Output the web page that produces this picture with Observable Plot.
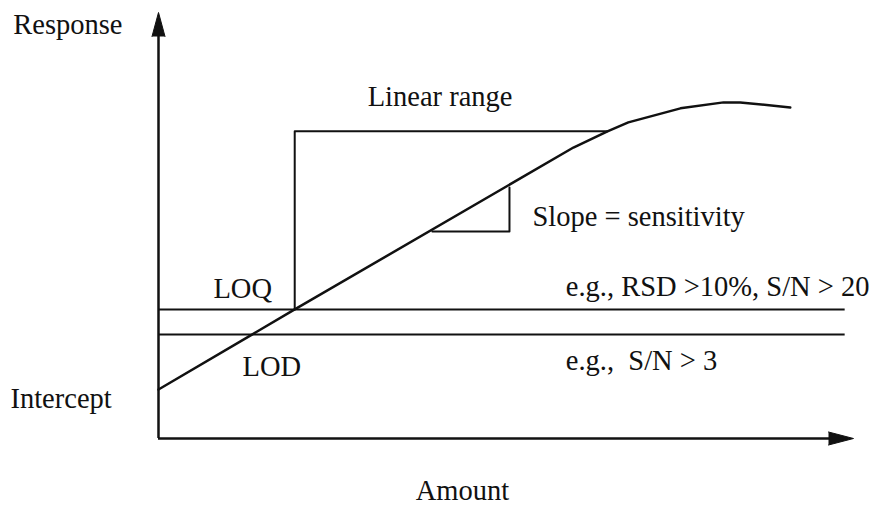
<!DOCTYPE html>
<html>
<head>
<meta charset="utf-8">
<script src="https://cdn.jsdelivr.net/npm/d3@7"></script>
<script src="https://cdn.jsdelivr.net/npm/@observablehq/plot@0.6"></script>
<style>
  html, body { margin: 0; padding: 0; background: #fff; }
  #chart svg { display: block; }
</style>
</head>
<body>
<div id="chart"></div>
<script>
// Calibration curve (schematic): amount vs response, arbitrary units
const curveAmount   = [0, 19.6, 59.7, 64.6, 67.6, 75.1, 81.3, 83.7, 90.9];
const curveResponse = [11.5, 30.3, 68.3, 72.1, 74.2, 77.5, 78.9, 78.9, 77.7];

// Threshold levels (response units)
const loqLevel = 30.3;
const lodLevel = 24.4;
const levelEnd = 98.8;           // amount where threshold lines stop

// Linear range bracket (amount start/end, response top)
const linearStart = 19.6;
const linearEnd = 64.6;
const linearTop = 72.1;

// Slope triangle
const slopeX = [39.4, 50.5];
const slopeY = [48.6, 58.9];

// Axis extents
const axisMax = 100;

// Labels
const labelText = ["Response", "Linear range", "Slope = sensitivity", "LOQ",
  "e.g., RSD >10%, S/N > 20", "LOD", "e.g.,\u00a0 S/N > 3", "Intercept", "Amount"];
const labelAmount = [-20.9, 30.1, 53.8, 7.9, 58.6, 12.1, 58.6, -21.3, 37.0];
const labelResponse = [97.2, 80.3, 52.1, 35.2, 35.7, 16.9, 18.3, 9.4, -12.3];

const curve = curveAmount.map((a, i) => ({a, r: curveResponse[i]}));
const labels = labelText.map((t, i) => ({t, a: labelAmount[i], r: labelResponse[i]}));

const ink = "#111";
const chart = Plot.plot({
  width: 880,
  height: 508,
  margin: 0,
  x: {domain: [0, axisMax], range: [158, 853], axis: null},
  y: {domain: [0, axisMax], range: [438, 12], axis: null},
  style: {background: "#fff", fontFamily: "'Liberation Serif', 'Times New Roman', serif"},
  marks: [
    // axes
    Plot.ruleX([0], {y1: 0, y2: axisMax * 0.95, stroke: ink, strokeWidth: 2.5}),
    Plot.ruleY([0], {x1: 0, x2: axisMax * 0.97, stroke: ink, strokeWidth: 2.5}),
    Plot.vector([{a: 0, r: axisMax}], {x: "a", y: "r", anchor: "end", length: 24, r: 6.5, rotate: 0, shape: "spike", fill: ink, stroke: ink, strokeWidth: 1}),
    Plot.vector([{a: axisMax, r: 0}], {x: "a", y: "r", anchor: "end", length: 25, r: 6.5, rotate: 90, shape: "spike", fill: ink, stroke: ink, strokeWidth: 1}),
    // threshold lines
    Plot.ruleY([loqLevel, lodLevel], {x1: 0, x2: levelEnd, stroke: ink, strokeWidth: 2}),
    // linear range bracket
    Plot.line([{a: linearStart, r: loqLevel}, {a: linearStart, r: linearTop}, {a: linearEnd, r: linearTop}],
      {x: "a", y: "r", stroke: ink, strokeWidth: 2}),
    // slope triangle
    Plot.line([{a: slopeX[0], r: slopeY[0]}, {a: slopeX[1], r: slopeY[0]}, {a: slopeX[1], r: slopeY[1]}],
      {x: "a", y: "r", stroke: ink, strokeWidth: 2}),
    // response curve
    Plot.line(curve, {x: "a", y: "r", stroke: ink, strokeWidth: 2.5, curve: "linear"}),
    // labels
    Plot.text(labels, {x: "a", y: "r", text: "t", textAnchor: "start", lineAnchor: "middle",
      fontSize: 28.5, fill: ink})
  ]
});
document.getElementById("chart").appendChild(chart);
</script>
</body>
</html>
